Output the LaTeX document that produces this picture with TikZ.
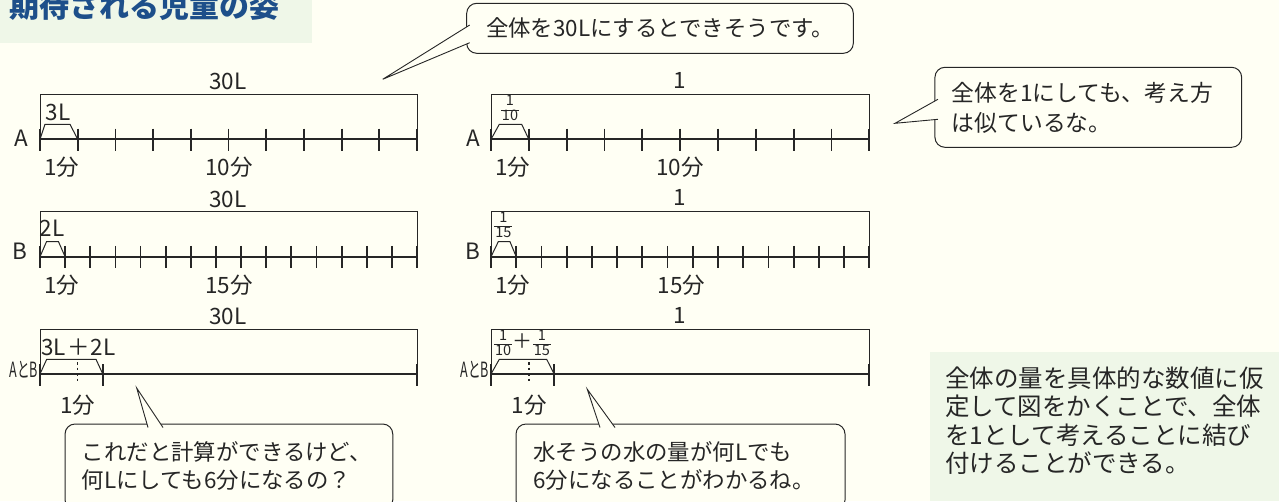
\documentclass[tikz,border=0pt]{standalone}
\usepackage{fontspec}
\setmainfont{Noto Sans CJK JP}
\usetikzlibrary{calc}
\definecolor{bg}{HTML}{FFFFF4}
\definecolor{grn}{HTML}{EFF7E8}
\definecolor{hdr}{HTML}{1D4F8A}
\definecolor{ink}{HTML}{262626}
\newcommand\myfrac[2]{{\fontsize{14.5}{14.5}\selectfont\setlength\tabcolsep{0.8pt}\renewcommand\arraystretch{0.9}\begin{tabular}{c}#1\\\hline #2\end{tabular}}}
\newcommand\lblfont{\fontsize{22.5}{26}\selectfont}
\newcommand\ab{\scalebox{0.6}[1]{\fontsize{21}{21}\selectfont AとB}}
\begin{document}
\begin{tikzpicture}[x=1pt,y=-1pt,
  every node/.style={inner sep=0pt, text=ink},
  frame/.style={line width=1pt, draw=ink, line join=miter},
  numline/.style={line width=2.3pt, draw=ink},
  tickmark/.style={line width=1.8pt, draw=ink},
  dotv/.style={line width=1.4pt, draw=ink, dash pattern=on 2.5pt off 3pt},
  lab/.style={font=\lblfont},
  callout/.style={draw=ink, line width=1pt, rounded corners=10pt, fill=bg},
  saytext/.style={font=\fontsize{22.4}{28}\selectfont, align=left},
  ptr/.style={draw=ink, line width=0.9pt}]
\useasboundingbox (0,0) rectangle (1279,501);
\fill[bg] (0,0) rectangle (1279,501);
% header
\fill[grn] (0,0) rectangle (312,43);
\node[anchor=base west, font=\fontsize{30}{30}\selectfont\bfseries, text=hdr] (title) at (9,17) {期待される児童の姿};
% bottom-right summary box
\fill[grn] (930,351.7) rectangle (1279,501);
\node[anchor=west, align=left, font=\fontsize{24.5}{28.5}\selectfont] (summary) at (945,420.6)
  {全体の量を具体的な数値に仮\\定して図をかくことで、全体\\を1として考えることに結び\\付けることができる。};

% ===== left A =====
\draw[frame] (40,139.3) -- (40,94.3) -- (417,94.3) -- (417,139.3);
\draw[numline] (40,139.3) -- (417,139.3);
\foreach \k in {0,...,10} \draw[tickmark] ({40+\k*37.7},128.5) -- ({40+\k*37.7},150.5);
\draw[frame] (40,139.3) -- (45,124.3) -- (70,124.3) -- (77.7,139.3);
\node[lab] (la30) at (228,81.5) {30L};
\node[lab] (la3) at (58,112) {3L};
\node[lab] (laA) at (21,138) {A};
\node[lab] (la1) at (61.7,167) {1分};
\node[lab] (la10) at (229,167) {10分};

% ===== left B =====
\draw[frame] (40,256.7) -- (40,211.7) -- (417,211.7) -- (417,256.7);
\draw[numline] (40,256.7) -- (417,256.7);
\foreach \k in {0,...,15} \draw[tickmark] ({40+\k*25.133},245.9) -- ({40+\k*25.133},267.9);
\draw[frame] (40,256.7) -- (46.5,241.7) -- (58.5,241.7) -- (65.1,256.7);
\node[lab] (lb30) at (228,199.5) {30L};
\node[lab] (lb2) at (52,228) {2L};
\node[lab] (lbB) at (20,251.7) {B};
\node[lab] (lb1) at (61.7,285) {1分};
\node[lab] (lb15) at (229,285) {15分};

% ===== left A and B =====
\draw[frame] (40,374) -- (40,329) -- (417,329) -- (417,374);
\draw[numline] (40,374) -- (417,374);
\foreach \xx in {40,102.8,417} \draw[tickmark] (\xx,364) -- (\xx,385.5);
\draw[dotv] (77.7,362) -- (77.7,383);
\draw[frame] (40,374) -- (46.7,359.3) -- (96,359.3) -- (102.8,374);
\node[lab] (lc30) at (228,316.5) {30L};
\node[lab] (lc32) at (78.3,347.5) {3L\kern1pt＋\kern1pt2L};
\node (lcAB) at (24,369.5) {\ab};
\node[lab] (lc1) at (77.5,405) {1分};

% ===== right A =====
\draw[frame] (491,139.3) -- (491,94.3) -- (869.3,94.3) -- (869.3,139.3);
\draw[numline] (491,139.3) -- (869.3,139.3);
\foreach \k in {0,...,10} \draw[tickmark] ({491+\k*37.83},128.5) -- ({491+\k*37.83},150.5);
\draw[frame] (491,139.3) -- (499.3,124.3) -- (521.7,124.3) -- (528.8,139.3);
\node[lab] (ra1) at (679.3,80) {1};
\node (rafr) at (510,110) {\myfrac{1}{10}};
\node[lab] (raA) at (473,138) {A};
\node[lab] (ram) at (512.5,167) {1分};
\node[lab] (ra10) at (680,167) {10分};

% ===== right B =====
\draw[frame] (491,256.7) -- (491,211.7) -- (869.3,211.7) -- (869.3,256.7);
\draw[numline] (491,256.7) -- (869.3,256.7);
\foreach \k in {0,...,15} \draw[tickmark] ({491+\k*25.22},245.9) -- ({491+\k*25.22},267.9);
\draw[frame] (491,256.7) -- (498.3,241.7) -- (510,241.7) -- (516.2,256.7);
\node[lab] (rb1) at (679.3,197) {1};
\node (rbfr) at (503.3,226.5) {\myfrac{1}{15}};
\node[lab] (rbB) at (473,251.7) {B};
\node[lab] (rbm) at (512.5,285) {1分};
\node[lab] (rb15) at (681.5,285) {15分};

% ===== right A and B =====
\draw[frame] (491,374) -- (491,329) -- (869.3,329) -- (869.3,374);
\draw[numline] (491,374) -- (869.3,374);
\foreach \xx in {491,554.1,869.3} \draw[tickmark] (\xx,364) -- (\xx,385.5);
\draw[dotv] (528.8,362) -- (528.8,383);
\draw[frame] (491,374) -- (499.3,359.3) -- (546.7,359.3) -- (554.1,374);
\node[lab] (rc1) at (679.3,315) {1};
\node (rcfr) at (522.5,344.5) {\myfrac{1}{10}{\fontsize{20}{20}\selectfont\kern0.5pt＋\kern0.5pt}\myfrac{1}{15}};
\node (rcAB) at (475,369.5) {\ab};
\node[lab] (rcm) at (529,405) {1分};

% ===== callout top =====
\node[callout, minimum width=386.6pt, minimum height=50pt] (cA) at (660,28.3) {};
\coordinate (tipA) at (382.7,79.3);
\coordinate (a1) at ($(cA.west)+(3.5,-3.3)$);
\coordinate (a2) at ($(cA.west)+(3.5,14.4)$);
\fill[bg] (tipA) -- (a1) -- (a2) -- cycle;
\draw[ptr] (a1) -- (tipA) -- (a2);
\node[saytext] (tA) at (660,28.3) {全体を30Lにするとできそうです。};

% ===== callout right =====
\node[callout, minimum width=306.7pt, minimum height=80pt] (cB) at (1088.3,107.3) {};
\coordinate (tipB) at (895,123.3);
\coordinate (b1) at ($(cB.west)+(3.5,-8)$);
\coordinate (b2) at ($(cB.west)+(3.5,12)$);
\fill[bg] (tipB) -- (b1) -- (b2) -- cycle;
\draw[ptr] (b1) -- (tipB) -- (b2);
\node[saytext, anchor=west, font=\fontsize{22.8}{30}\selectfont] (tB) at (951.7,108.3) {全体を1にしても、考え方\\は似ているな。};

% ===== callout bottom left =====
\node[callout, minimum width=327.7pt, minimum height=86pt] (cC) at (228.9,467) {};
\coordinate (tipC) at (136.7,388);
\coordinate (c1) at (148,427.5);
\coordinate (c2) at (163,427.5);
\fill[bg] (tipC) -- (c1) -- (c2) -- cycle;
\draw[ptr] (c1) -- (tipC) -- (c2);
\node[saytext, anchor=west] (tC) at (81.7,466) {これだと計算ができるけど、\\何Lにしても6分になるの？};

% ===== callout bottom middle =====
\node[callout, minimum width=329pt, minimum height=86pt] (cD) at (680.5,467) {};
\coordinate (tipD) at (587.3,389.3);
\coordinate (d1) at (600,427.5);
\coordinate (d2) at (615,427.5);
\fill[bg] (tipD) -- (d1) -- (d2) -- cycle;
\draw[ptr] (d1) -- (tipD) -- (d2);
\node[saytext, anchor=west] (tD) at (533.3,466) {水そうの水の量が何Lでも\\6分になることがわかるね。};
\end{tikzpicture}
\end{document}
